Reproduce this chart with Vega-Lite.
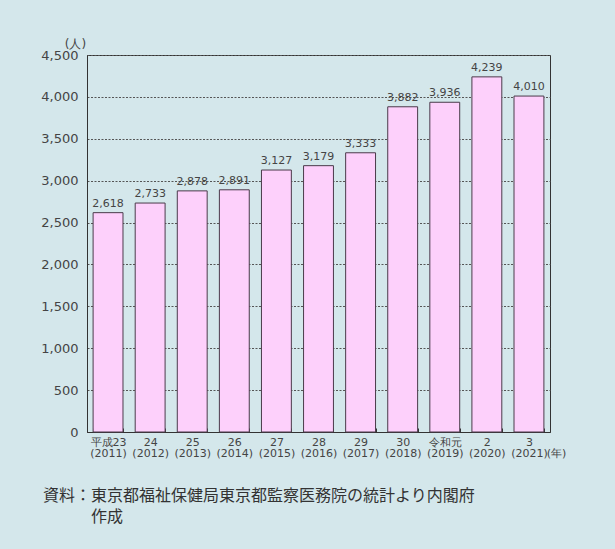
{
  "$schema": "https://vega.github.io/schema/vega-lite/v6.json",
  "width": 463,
  "height": 377,
  "autosize": {"type": "none"},
  "padding": {"left": 87, "top": 55, "right": 65, "bottom": 117},
  "background": "#d4e7eb",
  "title": {
    "text": ["資料：東京都福祉保健局東京都監察医務院の統計より内閣府", "\u200d\u3000\u3000\u3000作成"],
    "orient": "bottom",
    "anchor": "start",
    "frame": "group",
    "dx": -44,
    "offset": 30,
    "font": "Noto Sans CJK JP",
    "fontSize": 16,
    "fontWeight": "normal",
    "color": "#333333",
    "lineHeight": 21,
    "baseline": "top"
  },
  "data": {
    "values": [
      {"year": "平成23|(2011)", "value": 2618},
      {"year": "24|(2012)", "value": 2733},
      {"year": "25|(2013)", "value": 2878},
      {"year": "26|(2014)", "value": 2891},
      {"year": "27|(2015)", "value": 3127},
      {"year": "28|(2016)", "value": 3179},
      {"year": "29|(2017)", "value": 3333},
      {"year": "30|(2018)", "value": 3882},
      {"year": "令和元|(2019)", "value": 3936},
      {"year": "2|(2020)", "value": 4239},
      {"year": "3|(2021)", "value": 4010}
    ]
  },
  "encoding": {
    "x": {
      "field": "year",
      "type": "nominal",
      "sort": null,
      "scale": {"paddingInner": 0.29, "paddingOuter": 0.145},
      "axis": {
        "title": "(年)",
        "titleX": 469,
        "titleY": 21,
        "titleAlign": "center",
        "titleBaseline": "middle",
        "titleFont": "DejaVu Sans",
        "titleFontSize": 11,
        "titleFontWeight": "normal",
        "titleColor": "#444444",
        "labelAngle": 0,
        "labelExpr": "isValid(datum.value) ? split(datum.value, '|') : ''",
        "labelFont": "DejaVu Sans",
        "labelFontSize": 11,
        "labelColor": "#444444",
        "labelLineHeight": 11,
        "labelPadding": 8,
        "labelBaseline": "top",
        "tickBand": "extent",
        "tickSize": -4,
        "tickColor": "#333333",
        "domainColor": "#333333",
        "grid": false
      }
    },
    "y": {
      "field": "value",
      "type": "quantitative",
      "scale": {"domain": [0, 4500], "nice": false},
      "axis": {
        "values": [0, 500, 1000, 1500, 2000, 2500, 3000, 3500, 4000, 4500],
        "format": ",.0f",
        "title": "(人)",
        "titleAngle": 0,
        "titleX": -12,
        "titleY": -12,
        "titleAlign": "center",
        "titleBaseline": "middle",
        "titleFont": "DejaVu Sans",
        "titleFontSize": 12,
        "titleFontWeight": "normal",
        "titleColor": "#444444",
        "labelFont": "DejaVu Sans",
        "labelFontSize": 13,
        "labelColor": "#444444",
        "labelPadding": 9,
        "ticks": false,
        "domainColor": "#333333",
        "grid": true,
        "gridColor": "#555555",
        "gridDash": [2, 1.5],
        "gridWidth": 1
      }
    }
  },
  "layer": [
    {
      "mark": {"type": "bar", "fill": "#fdd0fb", "stroke": "#4a3a4a", "strokeWidth": 1}
    },
    {
      "mark": {"type": "text", "baseline": "bottom", "dy": -4, "font": "DejaVu Sans", "fontSize": 11, "color": "#444444"},
      "encoding": {"text": {"field": "value", "type": "quantitative", "format": ",.0f"}}
    }
  ],
  "config": {
    "view": {"stroke": "#333333", "strokeWidth": 1}
  }
}
